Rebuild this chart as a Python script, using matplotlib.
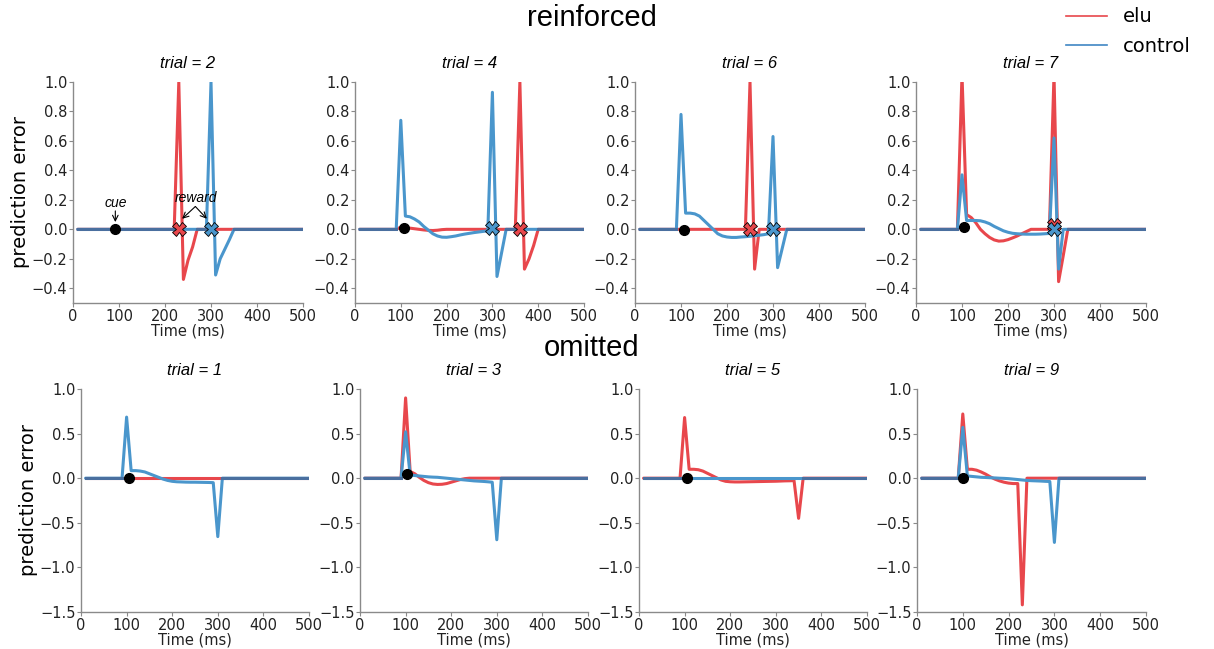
import numpy as np
import matplotlib
matplotlib.use('Agg')
import matplotlib.pyplot as plt
from matplotlib.lines import Line2D

# time grid (ms)
time = np.arange(10, 510, 10)

# non-zero prediction errors: {time: value}
# reinforced trials
elu_t2 = {230: 1.0, 240: -0.34, 250: -0.21, 260: -0.12}
ctrl_t2 = {300: 1.0, 310: -0.31, 320: -0.2, 330: -0.135, 340: -0.07}

elu_t4 = {100: 0.015, 110: 0.012, 120: 0.008, 130: 0.004, 140: 0.0, 150: -0.004,
          160: -0.007, 170: -0.008, 180: -0.006, 190: -0.002,
          360: 1.0, 370: -0.27, 380: -0.2, 390: -0.11}
ctrl_t4 = {100: 0.74, 110: 0.09, 120: 0.085, 130: 0.07, 140: 0.05, 150: 0.02,
           160: -0.005, 170: -0.03, 180: -0.045, 190: -0.053, 200: -0.054,
           210: -0.05, 220: -0.045, 230: -0.038, 240: -0.032, 250: -0.027,
           260: -0.022, 270: -0.018, 280: -0.014, 290: -0.01,
           300: 0.93, 310: -0.32, 320: -0.16}

elu_t6 = {250: 1.0, 260: -0.27}
ctrl_t6 = {100: 0.78, 110: 0.11, 120: 0.11, 130: 0.105, 140: 0.09, 150: 0.06,
           160: 0.03, 170: 0.0, 180: -0.03, 190: -0.045, 200: -0.052,
           210: -0.055, 220: -0.055, 230: -0.052, 240: -0.05, 250: -0.047,
           260: -0.043, 270: -0.04, 280: -0.036, 290: -0.03,
           300: 0.63, 310: -0.26, 320: -0.13}

elu_t7 = {100: 1.05, 110: 0.1, 120: 0.08, 130: 0.045, 140: 0.0, 150: -0.03,
          160: -0.055, 170: -0.072, 180: -0.08, 190: -0.078, 200: -0.07,
          210: -0.058, 220: -0.045, 230: -0.03, 240: -0.015,
          300: 1.05, 310: -0.355, 320: -0.18}
ctrl_t7 = {100: 0.37, 110: 0.06, 120: 0.06, 130: 0.06, 140: 0.058, 150: 0.05,
           160: 0.038, 170: 0.02, 180: 0.005, 190: -0.01, 200: -0.02,
           210: -0.027, 220: -0.03, 230: -0.032, 240: -0.033, 250: -0.033,
           260: -0.033, 270: -0.032, 280: -0.03, 290: -0.028,
           300: 0.62, 310: -0.27}

# omitted trials
elu_t1 = {}
ctrl_t1 = {100: 0.685, 110: 0.085, 120: 0.085, 130: 0.08, 140: 0.07, 150: 0.05,
           160: 0.03, 170: 0.01, 180: -0.01, 190: -0.025, 200: -0.035,
           210: -0.04, 220: -0.042, 230: -0.044, 240: -0.045, 250: -0.045,
           260: -0.046, 270: -0.047, 280: -0.048, 290: -0.05, 300: -0.655}

elu_t3 = {100: 0.9, 110: 0.075, 120: 0.05, 130: 0.01, 140: -0.025, 150: -0.05,
          160: -0.065, 170: -0.07, 180: -0.068, 190: -0.06, 200: -0.045,
          210: -0.03, 220: -0.015, 230: -0.005}
ctrl_t3 = {100: 0.52, 110: 0.035, 120: 0.03, 130: 0.025, 140: 0.02, 150: 0.015,
           160: 0.012, 170: 0.01, 180: 0.005, 190: 0.0, 200: -0.005,
           210: -0.01, 220: -0.015, 230: -0.02, 240: -0.025, 250: -0.03,
           260: -0.033, 270: -0.036, 280: -0.04, 290: -0.045, 300: -0.69}

elu_t5 = {100: 0.68, 110: 0.1, 120: 0.1, 130: 0.095, 140: 0.08, 150: 0.055,
          160: 0.03, 170: 0.005, 180: -0.02, 190: -0.035, 200: -0.04,
          210: -0.042, 220: -0.042, 230: -0.041, 240: -0.04, 250: -0.039,
          260: -0.038, 270: -0.037, 280: -0.036, 290: -0.035, 300: -0.034,
          310: -0.032, 320: -0.03, 330: -0.029, 340: -0.027, 350: -0.45}
ctrl_t5 = {}

elu_t9 = {100: 0.72, 110: 0.1, 120: 0.1, 130: 0.09, 140: 0.07, 150: 0.045,
          160: 0.015, 170: -0.01, 180: -0.03, 190: -0.045, 200: -0.055,
          210: -0.06, 220: -0.06, 230: -1.42}
ctrl_t9 = {100: 0.57, 110: 0.025, 120: 0.02, 130: 0.015, 140: 0.01, 150: 0.008,
           160: 0.005, 170: 0.003, 180: 0.0, 190: -0.002, 200: -0.005,
           210: -0.01, 220: -0.015, 230: -0.02, 240: -0.025, 250: -0.028,
           260: -0.03, 270: -0.032, 280: -0.035, 290: -0.037, 300: -0.72}

top_trials = [2, 4, 6, 7]
bottom_trials = [1, 3, 5, 9]
elu = {2: elu_t2, 4: elu_t4, 6: elu_t6, 7: elu_t7,
       1: elu_t1, 3: elu_t3, 5: elu_t5, 9: elu_t9}
ctrl = {2: ctrl_t2, 4: ctrl_t4, 6: ctrl_t6, 7: ctrl_t7,
        1: ctrl_t1, 3: ctrl_t3, 5: ctrl_t5, 9: ctrl_t9}

# cue dot (time, value) and reward crosses
cue_time = {2: 92, 4: 107, 6: 106, 7: 104, 1: 105, 3: 102, 5: 106, 9: 100}
cue_val = {2: 0.0, 4: 0.01, 6: -0.005, 7: 0.015, 1: 0.0, 3: 0.05, 5: 0.0, 9: 0.0}
reward_elu = {2: 230, 4: 360, 6: 250, 7: 300}
reward_elu_val = {2: 0.0, 4: 0.0, 6: 0.0, 7: 0.03}
reward_ctrl = {2: 300, 4: 300, 6: 300, 7: 300}
reward_ctrl_val = {2: 0.0, 4: 0.01, 6: 0.0, 7: 0.0}

RED = '#e8474c'
BLUE = '#4a96cc'
DARK = '#4a6f9f'
SPINE = '#8a8a8a'
TITLE_FONT = ['Liberation Sans', 'DejaVu Sans']


def series(vals):
    y = np.zeros(len(time))
    for t, v in vals.items():
        y[time == t] = v
    return y


W, H = 1214, 649
fig = plt.figure(figsize=(W / 100, H / 100), dpi=100)


def px_axes(left, right, top, bottom):
    return fig.add_axes([left / W, 1 - bottom / H, (right - left) / W, (bottom - top) / H])


top_pos = [(73, 303), (355, 584), (635, 865), (916, 1146)]
bot_pos = [(81, 309), (360, 588), (639, 867), (917, 1146)]


def draw(ax, trial, ylim, yticks):
    ye = series(elu[trial])
    yc = series(ctrl[trial])
    ax.plot(time, ye, color=RED, lw=2.2, solid_capstyle='round', zorder=2)
    ax.plot(time, yc, color=BLUE, lw=2.2, solid_capstyle='round', zorder=3)
    both = np.where(np.isclose(ye, yc), yc, np.nan)
    ax.plot(time, both, color=DARK, lw=2.2, zorder=4)
    ax.plot(cue_time[trial], cue_val[trial], 'o', color='black', ms=7, zorder=6)
    if trial in reward_elu:
        ax.plot(reward_elu[trial], reward_elu_val[trial], 'X', ms=9.5, mfc=RED,
                mec='black', mew=0.6, zorder=7)
        ax.plot(reward_ctrl[trial], reward_ctrl_val[trial], 'X', ms=9.5, mfc=BLUE,
                mec='black', mew=0.6, zorder=7)
    ax.set_xlim(0, 500)
    ax.set_ylim(*ylim)
    ax.set_yticks(yticks)
    ax.set_xticks([0, 100, 200, 300, 400, 500])
    for s in ['top', 'right']:
        ax.spines[s].set_visible(False)
    for s in ['left', 'bottom']:
        ax.spines[s].set_color(SPINE)
        ax.spines[s].set_linewidth(1.0)
    ax.tick_params(colors=SPINE, labelcolor='#222222', labelsize=10.5, length=3, pad=1)
    ax.set_xlabel('Time (ms)', fontsize=10.5, labelpad=0, color='#222222')
    ax.set_title('trial = %d' % trial, fontsize=12, style='italic',
                 family=TITLE_FONT, pad=10)


arrow = dict(arrowstyle='->', lw=0.8, color='black', shrinkA=0, shrinkB=1)

for i, trial in enumerate(top_trials):
    ax = px_axes(top_pos[i][0], top_pos[i][1], 82, 303)
    draw(ax, trial, (-0.5, 1.0), np.arange(-0.4, 1.01, 0.2).round(1))
    if i == 0:
        ax.set_ylabel('prediction error', fontsize=14, labelpad=1)
        ax.text(cue_time[trial], 0.13, 'cue', ha='center', va='bottom', fontsize=10,
                style='italic', family=TITLE_FONT)
        ax.annotate('', xy=(cue_time[trial], 0.04), xytext=(cue_time[trial], 0.125),
                    arrowprops=arrow)
        ax.text(267, 0.165, 'reward', ha='center', va='bottom', fontsize=10,
                style='italic', family=TITLE_FONT)
        ax.annotate('', xy=(reward_elu[trial] + 5, 0.065), xytext=(266, 0.155),
                    arrowprops=arrow)
        ax.annotate('', xy=(reward_ctrl[trial] - 7, 0.065), xytext=(266, 0.155),
                    arrowprops=arrow)

for i, trial in enumerate(bottom_trials):
    ax = px_axes(bot_pos[i][0], bot_pos[i][1], 389, 612)
    draw(ax, trial, (-1.5, 1.0), [-1.5, -1.0, -0.5, 0.0, 0.5, 1.0])
    if i == 0:
        ax.set_ylabel('prediction error', fontsize=14, labelpad=1)

fig.text(592 / W, 1 - 18 / H, 'reinforced', ha='center', va='center',
         fontsize=21, family=TITLE_FONT)
fig.text(592 / W, 1 - 348 / H, 'omitted', ha='center', va='center',
         fontsize=21, family=TITLE_FONT)

handles = [Line2D([], [], color=RED, lw=1.2), Line2D([], [], color='#3f86c4', lw=1.2)]
fig.legend(handles, ['elu', 'control'], loc='upper right',
           bbox_to_anchor=(1208 / W, 1 + 10 / H), frameon=False, fontsize=14,
           handlelength=2.1, handletextpad=0.8, labelspacing=0.55)

fig.savefig('out.png', dpi=100)
